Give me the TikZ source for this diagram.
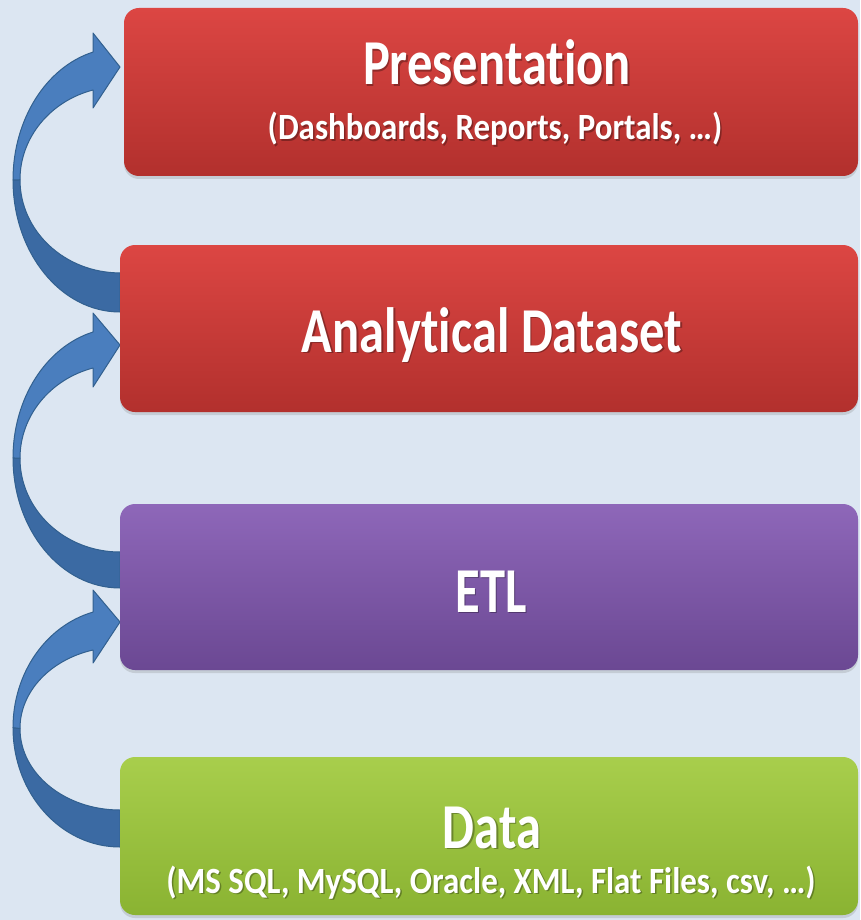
\documentclass[tikz,border=0pt]{standalone}
\usepackage{fontspec}
\usepackage{graphicx}
\setmainfont[Ligatures={NoCommon,NoContextual}]{Carlito}
\usetikzlibrary{shadows}
\definecolor{bgc}{HTML}{DCE6F2}
\definecolor{redT}{HTML}{DC4643}
\definecolor{redB}{HTML}{B2302D}
\definecolor{purT}{HTML}{8E67B9}
\definecolor{purB}{HTML}{6B4893}
\definecolor{grnT}{HTML}{A8CE4C}
\definecolor{grnB}{HTML}{8AB332}
\definecolor{arrL}{HTML}{4A7EBE}
\definecolor{arrD}{HTML}{3B6AA3}
\definecolor{arrE}{HTML}{32608F}
\newcommand\shtext[5]{%
  \node[#4,text=black,opacity=0.3] (#1s) at (#2+1.5,#3+1.5) {#5};
  \node[#4] (#1) at (#2,#3) {#5};}
\begin{document}
\begin{tikzpicture}[x=1pt,y=-1pt,
  box/.style={rounded corners=15pt, draw=none, inner sep=0pt,
    drop shadow={shadow xshift=0pt, shadow yshift=-3pt, opacity=0.25}},
  ttl/.style={anchor=base, text=white, inner sep=0pt,
    font=\bfseries\fontsize{64}{64}\selectfont},
  sub/.style={anchor=base, text=white, inner sep=0pt,
    font=\bfseries\fontsize{37}{37}\selectfont},
  arrfront/.style={fill=arrL, draw=arrE, line width=1pt, line join=round},
  arrback/.style={fill=arrD, draw=arrE, line width=1pt, line join=round}]
\fill[bgc] (0,0) rectangle (860,920);
\useasboundingbox (0,0) rectangle (860,920);

% arrows (behind boxes)
% Data -> ETL
\path[arrback] (120,847) arc[start angle=270, end angle=180, x radius=107pt, y radius=119.4pt]
  -- (20,728.5) arc[start angle=180, end angle=270, x radius=100pt, y radius=81.5pt] -- cycle;
\path[arrfront] (13,727.6) arc[start angle=180, end angle=104.6, x radius=107pt, y radius=119.4pt]
  -- (93,590) -- (120,622) -- (93,663) -- (93,650)
  arc[start angle=105.66, end angle=180, x radius=100pt, y radius=81.5pt] -- cycle;
% ETL -> Analytical
\path[arrback] (120,588) arc[start angle=270, end angle=180, x radius=107pt, y radius=130.1pt]
  -- (20,458.25) arc[start angle=180, end angle=270, x radius=100pt, y radius=93.75pt] -- cycle;
\path[arrfront] (13,457.9) arc[start angle=180, end angle=104.6, x radius=107pt, y radius=130.1pt]
  -- (93,313) -- (120,345) -- (93,387) -- (93,368)
  arc[start angle=105.66, end angle=180, x radius=100pt, y radius=93.75pt] -- cycle;
% Analytical -> Presentation
\path[arrback] (120,312) arc[start angle=270, end angle=180, x radius=107pt, y radius=132.1pt]
  -- (20,179.7) arc[start angle=180, end angle=270, x radius=100pt, y radius=93.2pt] -- cycle;
\path[arrfront] (13,179.9) arc[start angle=180, end angle=104.6, x radius=107pt, y radius=132.1pt]
  -- (93,33) -- (120,67) -- (93,108) -- (93,90)
  arc[start angle=105.66, end angle=180, x radius=100pt, y radius=93.2pt] -- cycle;

% boxes
\node[box, top color=redT, bottom color=redB, minimum width=734pt, minimum height=168pt] (pres) at (491,92) {};
\node[box, top color=redT, bottom color=redB, minimum width=738pt, minimum height=167pt] (ana) at (489,328.5) {};
\node[box, top color=purT, bottom color=purB, minimum width=738pt, minimum height=166pt] (etl) at (489,587) {};
\node[box, top color=grnT, bottom color=grnB, minimum width=738pt, minimum height=158pt] (data) at (489,836) {};

% texts
\shtext{tp}{497}{85}{ttl}{\scalebox{0.79}[1]{Presentation}}
\shtext{tps}{495}{140}{sub}{\scalebox{0.89}[1]{(Dashboards, Reports, Portals, …)}}
\shtext{ta}{492}{352}{ttl}{\scalebox{0.79}[1]{Analytical Dataset}}
\shtext{te}{491}{612}{ttl}{\scalebox{0.79}[1]{ETL}}
\shtext{td}{492}{848}{ttl}{\scalebox{0.79}[1]{Data}}
\shtext{tds}{491}{893}{sub}{\scalebox{0.89}[1]{(MS SQL, MySQL, Oracle, XML, Flat Files, csv, …)}}
\end{tikzpicture}
\end{document}
